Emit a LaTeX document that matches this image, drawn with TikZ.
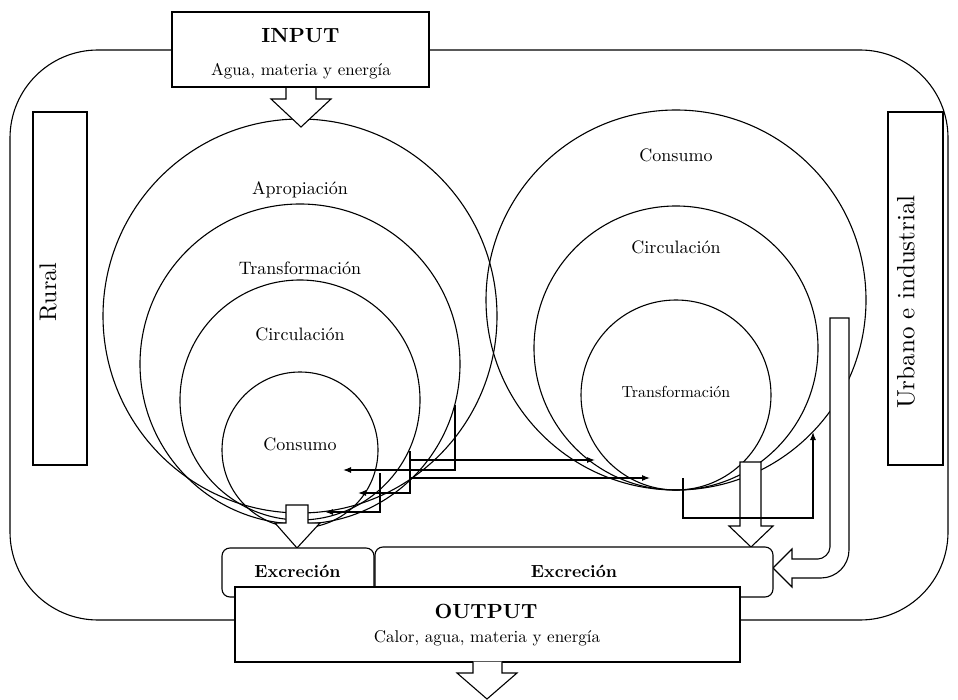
\documentclass[tikz,border=0pt]{standalone}
\usepackage{fontspec}
\setmainfont{lmroman10-regular.otf}[BoldFont=lmroman10-bold.otf, ItalicFont=lmroman10-italic.otf]
\usetikzlibrary{arrows.meta}
\begin{document}
\begin{tikzpicture}[x=1pt,y=-1pt, line width=1.1pt,
  lbl/.style={font=\fontsize{18}{20}\selectfont, inner sep=0pt, anchor=base},
  lblsmall/.style={font=\fontsize{16}{18}\selectfont, inner sep=0pt, anchor=base},
  bigbold/.style={font=\fontsize{20.5}{24}\selectfont\bfseries, inner sep=0pt, anchor=base},
  subbold/.style={font=\fontsize{17.5}{20}\selectfont\bfseries, inner sep=0pt, anchor=base},
  sub/.style={font=\fontsize{17}{20}\selectfont, inner sep=0pt, anchor=base},
  side/.style={font=\fontsize{24}{28}\selectfont, inner sep=0pt, rotate=90},
  ring/.style={circle, draw, inner sep=0pt},
  plainbox/.style={draw, fill=white, inner sep=0pt},
  blockarrow/.style={draw, fill=white, line join=miter},
  flow/.style={-{Latex[length=8pt,width=6pt]}}]
\useasboundingbox (0,0) rectangle (958,700);

% outer frame
\draw[rounded corners=88pt] (10,50) rectangle (948,620);

% side boxes
\node[draw, minimum width=54pt, minimum height=353pt, inner sep=0pt] (rural) at (60,288.5) {};
\node[side] (tRural) at (48,292) {Rural};
\node[draw, minimum width=55pt, minimum height=353pt, inner sep=0pt] (urb) at (915.5,288.5) {};
\node[side, font=\fontsize{25}{28}\selectfont] (tUrb) at (906,302) {Urbano e industrial};

% left circles
\node[ring, minimum size=394pt] (apro) at (300,316) {};
\node[ring, minimum size=320pt] (transL) at (300,364) {};
\node[ring, minimum size=240pt] (circL) at (300,400) {};
\node[ring, minimum size=156pt] (consL) at (300,450) {};
% right circles
\node[ring, minimum size=380pt] (consR) at (676,300) {};
\node[ring, minimum size=284pt] (circR) at (676,348) {};
\node[ring, minimum size=190pt] (transR) at (676,395) {};

% circle labels
\node[lbl] (tApro) at (300,195) {Apropiación};
\node[lbl] (tTransL) at (300,275) {Transformación};
\node[lbl] (tCircL) at (300,341) {Circulación};
\node[lbl] (tConsL) at (300,450) {Consumo};
\node[lbl] (tConsR) at (676,162) {Consumo};
\node[lbl] (tCircR) at (676,254) {Circulación};
\node[lblsmall] (tTransR) at (676,397) {Transformación};

% block arrows
\draw[blockarrow] (286,87) -- (286,99) -- (271,99) -- (301,127) -- (331,99) -- (316,99) -- (316,87) -- cycle;
\draw[blockarrow] (286,505) -- (286,523) -- (275,523) -- (297,548) -- (320,523) -- (308,523) -- (308,505) -- cycle;
\draw[blockarrow] (740,462) -- (740,526) -- (729,526) -- (751,547) -- (773,526) -- (761,526) -- (761,462) -- cycle;
\draw[blockarrow] (830,318) -- (830,547) .. controls (830,553.6) and (823.4,559) .. (818,559)
  -- (792,559) -- (792,549) -- (773,568) -- (792,587) -- (792,578) -- (821,578)
  .. controls (836.4,578) and (849,565.4) .. (849,550) -- (849,318) -- cycle;

% connectors
\coordinate (l1s) at (455,405);
\coordinate (l1e) at (343,470);
\coordinate (l2s) at (410,451);
\coordinate (l2e) at (358,493);
\coordinate (l3s) at (380,473);
\coordinate (l3e) at (325,512);
\coordinate (r1s) at (410,460);
\coordinate (r1e) at (595,460);
\coordinate (r2s) at (410,478);
\coordinate (r2e) at (650,478);
\coordinate (c1s) at (683,478);
\coordinate (c1m) at (813,518);
\coordinate (c1e) at (813,432);
\draw[flow] (l1s) |- (l1e);
\draw[flow] (l2s) |- (l2e);
\draw[flow] (l3s) |- (l3e);
\draw[flow] (r1s) -- (r1e);
\draw[flow] (r2s) -- (r2e);
\draw[flow] (c1s) |- (c1m) -- (c1e);

% excretion boxes
\draw[rounded corners=8pt, fill=white] (222,548) rectangle (374,597);
\draw[rounded corners=8pt, fill=white] (375,547) rectangle (773,597);
\node[subbold] (tExcL) at (297.5,577) {Excreción};
\node[subbold] (tExcR) at (574,577) {Excreción};

% input / output boxes
\node[plainbox, minimum width=257pt, minimum height=75pt] (inbox) at (300.5,49.5) {};
\node[bigbold] (tIn) at (300.5,43) {INPUT};
\node[sub] (tInSub) at (301,76) {Agua, materia y energía};

\node[plainbox, minimum width=505pt, minimum height=75pt] (outbox) at (487.5,624.5) {};
\node[bigbold] (tOut) at (486,618) {OUTPUT};
\node[sub] (tOutSub) at (487,642) {Calor, agua, materia y energía};
\draw[blockarrow] (473,661.5) -- (473,673) -- (457,673) -- (487,699) -- (517,673) -- (502,673) -- (502,661.5);
\end{tikzpicture}
\end{document}
